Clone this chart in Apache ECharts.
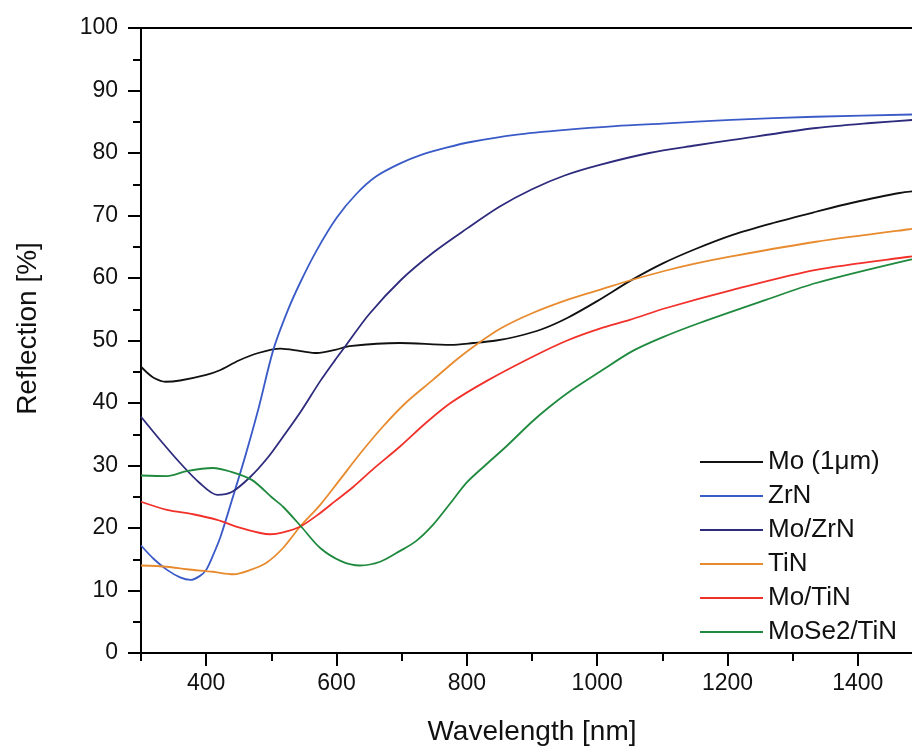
<!DOCTYPE html>
<html>
<head>
<meta charset="utf-8">
<script src="https://cdn.jsdelivr.net/npm/echarts@6/dist/echarts.min.js"></script>
<style>
html,body{margin:0;padding:0;background:#fff;}
#chart{width:912px;height:751px;}
</style>
</head>
<body>
<div id="chart"></div>
<script>
// ---- data (wavelength nm, reflection %) ----
const seriesNames = ['Mo (1\u03bcm)', 'ZrN', 'Mo/ZrN', 'TiN', 'Mo/TiN', 'MoSe2/TiN'];

const moData = [[300,45.8],[310,44.8],[320,44.0],[337,43.4],[360,43.6],[400,44.5],[420,45.2],[450,46.8],[480,48.0],[514,48.7],[545,48.3],[570,48.0],[598,48.5],[620,49.1],[697,49.6],[775,49.3],[810,49.6],[845,50.0],[875,50.6],[915,51.8],[954,53.6],[1000,56.3],[1050,59.5],[1100,62.3],[1150,64.6],[1208,66.9],[1270,68.8],[1336,70.6],[1390,72.0],[1464,73.6],[1500,74.0]];

const zrnData = [[300,17.2],[320,15.0],[340,13.3],[360,12.1],[376,11.7],[390,12.3],[400,13.3],[410,15.5],[422,18.6],[442,25.3],[460,31.5],[480,39.0],[503,48.5],[524,54.5],[544,59.2],[570,64.5],[600,69.6],[630,73.4],[660,76.2],[697,78.3],[730,79.7],[770,80.9],[808,81.8],[874,82.9],[951,83.7],[1028,84.3],[1100,84.7],[1206,85.3],[1334,85.8],[1500,86.2]];

const moZrnData = [[300,37.8],[330,34.0],[360,30.4],[390,27.2],[417,25.3],[440,25.8],[468,28.2],[494,31.2],[518,34.6],[545,38.6],[575,43.5],[598,46.9],[613,49.0],[650,54.2],[700,59.8],[750,64.2],[800,67.9],[850,71.4],[900,74.2],[950,76.4],[1004,78.1],[1080,80.0],[1150,81.2],[1208,82.1],[1336,84.0],[1420,84.8],[1500,85.4]];

const tinData = [[300,14.0],[340,13.8],[370,13.4],[410,13.0],[442,12.6],[468,13.3],[492,14.4],[518,16.8],[544,20.2],[575,23.7],[605,27.7],[637,32.0],[671,36.2],[706,40.0],[748,43.7],[785,47.0],[818,49.6],[853,52.0],[901,54.4],[954,56.5],[1004,58.1],[1050,59.6],[1106,61.2],[1150,62.3],[1208,63.5],[1336,65.8],[1479,67.8],[1500,68.0]];

const moTinData = [[300,24.2],[340,22.9],[380,22.2],[417,21.3],[450,20.1],[483,19.2],[498,19.0],[518,19.3],[544,20.2],[575,22.4],[598,24.3],[626,26.6],[657,29.5],[697,33.0],[737,36.8],[775,40.0],[830,43.5],[901,47.4],[954,50.0],[1004,51.9],[1050,53.3],[1106,55.2],[1208,58.1],[1336,61.3],[1479,63.4],[1500,63.6]];

const moSe2TinData = [[300,28.4],[340,28.3],[370,29.1],[410,29.6],[438,29.0],[470,27.7],[502,24.8],[518,23.4],[546,20.2],[575,16.8],[607,14.7],[636,14.0],[667,14.6],[697,16.3],[722,17.9],[748,20.5],[775,24.0],[800,27.3],[830,30.2],[860,33.0],[900,37.0],[927,39.4],[960,42.0],[1004,45.0],[1054,48.3],[1100,50.5],[1157,52.8],[1259,56.5],[1336,59.2],[1479,62.9],[1500,63.2]];

const xMajorTicks = [400, 600, 800, 1000, 1200, 1400];
const xMinorTicks = [300, 500, 700, 900, 1100, 1300, 1500];

const colors = ['#111111', '#3a5bc7', '#2e2b7d', '#e88a2e', '#f2302a', '#1f8a3e'];
const allData = [moData, zrnData, moZrnData, tinData, moTinData, moSe2TinData];

const FONT = '"Liberation Sans", Arial, Helvetica, sans-serif';

const chart = echarts.init(document.getElementById('chart'), null, {renderer: 'canvas'});

const series = seriesNames.map((n, i) => ({
  name: n,
  type: 'line',
  xAxisIndex: 0,
  data: allData[i],
  showSymbol: false,
  symbol: 'none',
  smooth: 0.3,
  lineStyle: {color: colors[i], width: 1.8},
  itemStyle: {color: colors[i]},
  animation: false
}));

chart.setOption({
  animation: false,
  backgroundColor: '#ffffff',
  textStyle: {fontFamily: FONT},
  grid: {
    left: 141, top: 28, width: 782, height: 625,
    outerBoundsMode: 'none',
    containLabel: false,
    show: true, borderColor: '#000', borderWidth: 2, backgroundColor: 'transparent'
  },
  legend: {
    orient: 'vertical',
    left: 695, top: 444,
    icon: 'rect',
    itemWidth: 63, itemHeight: 2,
    itemGap: 8,
    itemSpacing: 7,
    data: seriesNames,
    textStyle: {fontSize: 26, color: '#111', fontFamily: FONT, lineHeight: 26},
    selectedMode: false
  },
  xAxis: [{
    type: 'value', min: 300, max: 1500,
    axisLine: {show: true, onZero: false, lineStyle: {color: '#000', width: 2}},
    axisTick: {show: true, customValues: xMajorTicks, length: 13, lineStyle: {color: '#000', width: 2}},
    axisLabel: {customValues: xMajorTicks, fontSize: 23, color: '#111', margin: 19, fontFamily: FONT,
      formatter: function (v) { return String(v); }},
    splitLine: {show: false},
    name: 'Wavelength [nm]', nameLocation: 'middle', nameGap: 65,
    nameTextStyle: {fontSize: 28, color: '#111', fontFamily: FONT}
  }, {
    type: 'value', min: 300, max: 1500, position: 'bottom',
    axisLine: {show: false},
    axisTick: {show: true, customValues: xMinorTicks, length: 8, lineStyle: {color: '#000', width: 2}},
    axisLabel: {show: false},
    splitLine: {show: false}
  }],
  yAxis: {
    type: 'value', min: 0, max: 100, interval: 10,
    axisLine: {show: true, lineStyle: {color: '#000', width: 2}},
    axisTick: {show: true, length: 13, lineStyle: {color: '#000', width: 2}},
    minorTick: {show: true, splitNumber: 2, length: 8, lineStyle: {color: '#000', width: 2}},
    splitLine: {show: false},
    minorSplitLine: {show: false},
    axisLabel: {fontSize: 23, color: '#111', margin: 23, fontFamily: FONT},
    name: 'Reflection [%]', nameLocation: 'middle', nameGap: 99,
    nameTextStyle: {fontSize: 28, color: '#111', fontFamily: FONT, padding: [0, 0, 0, 24]}
  },
  series: series
});
</script>
</body>
</html>
